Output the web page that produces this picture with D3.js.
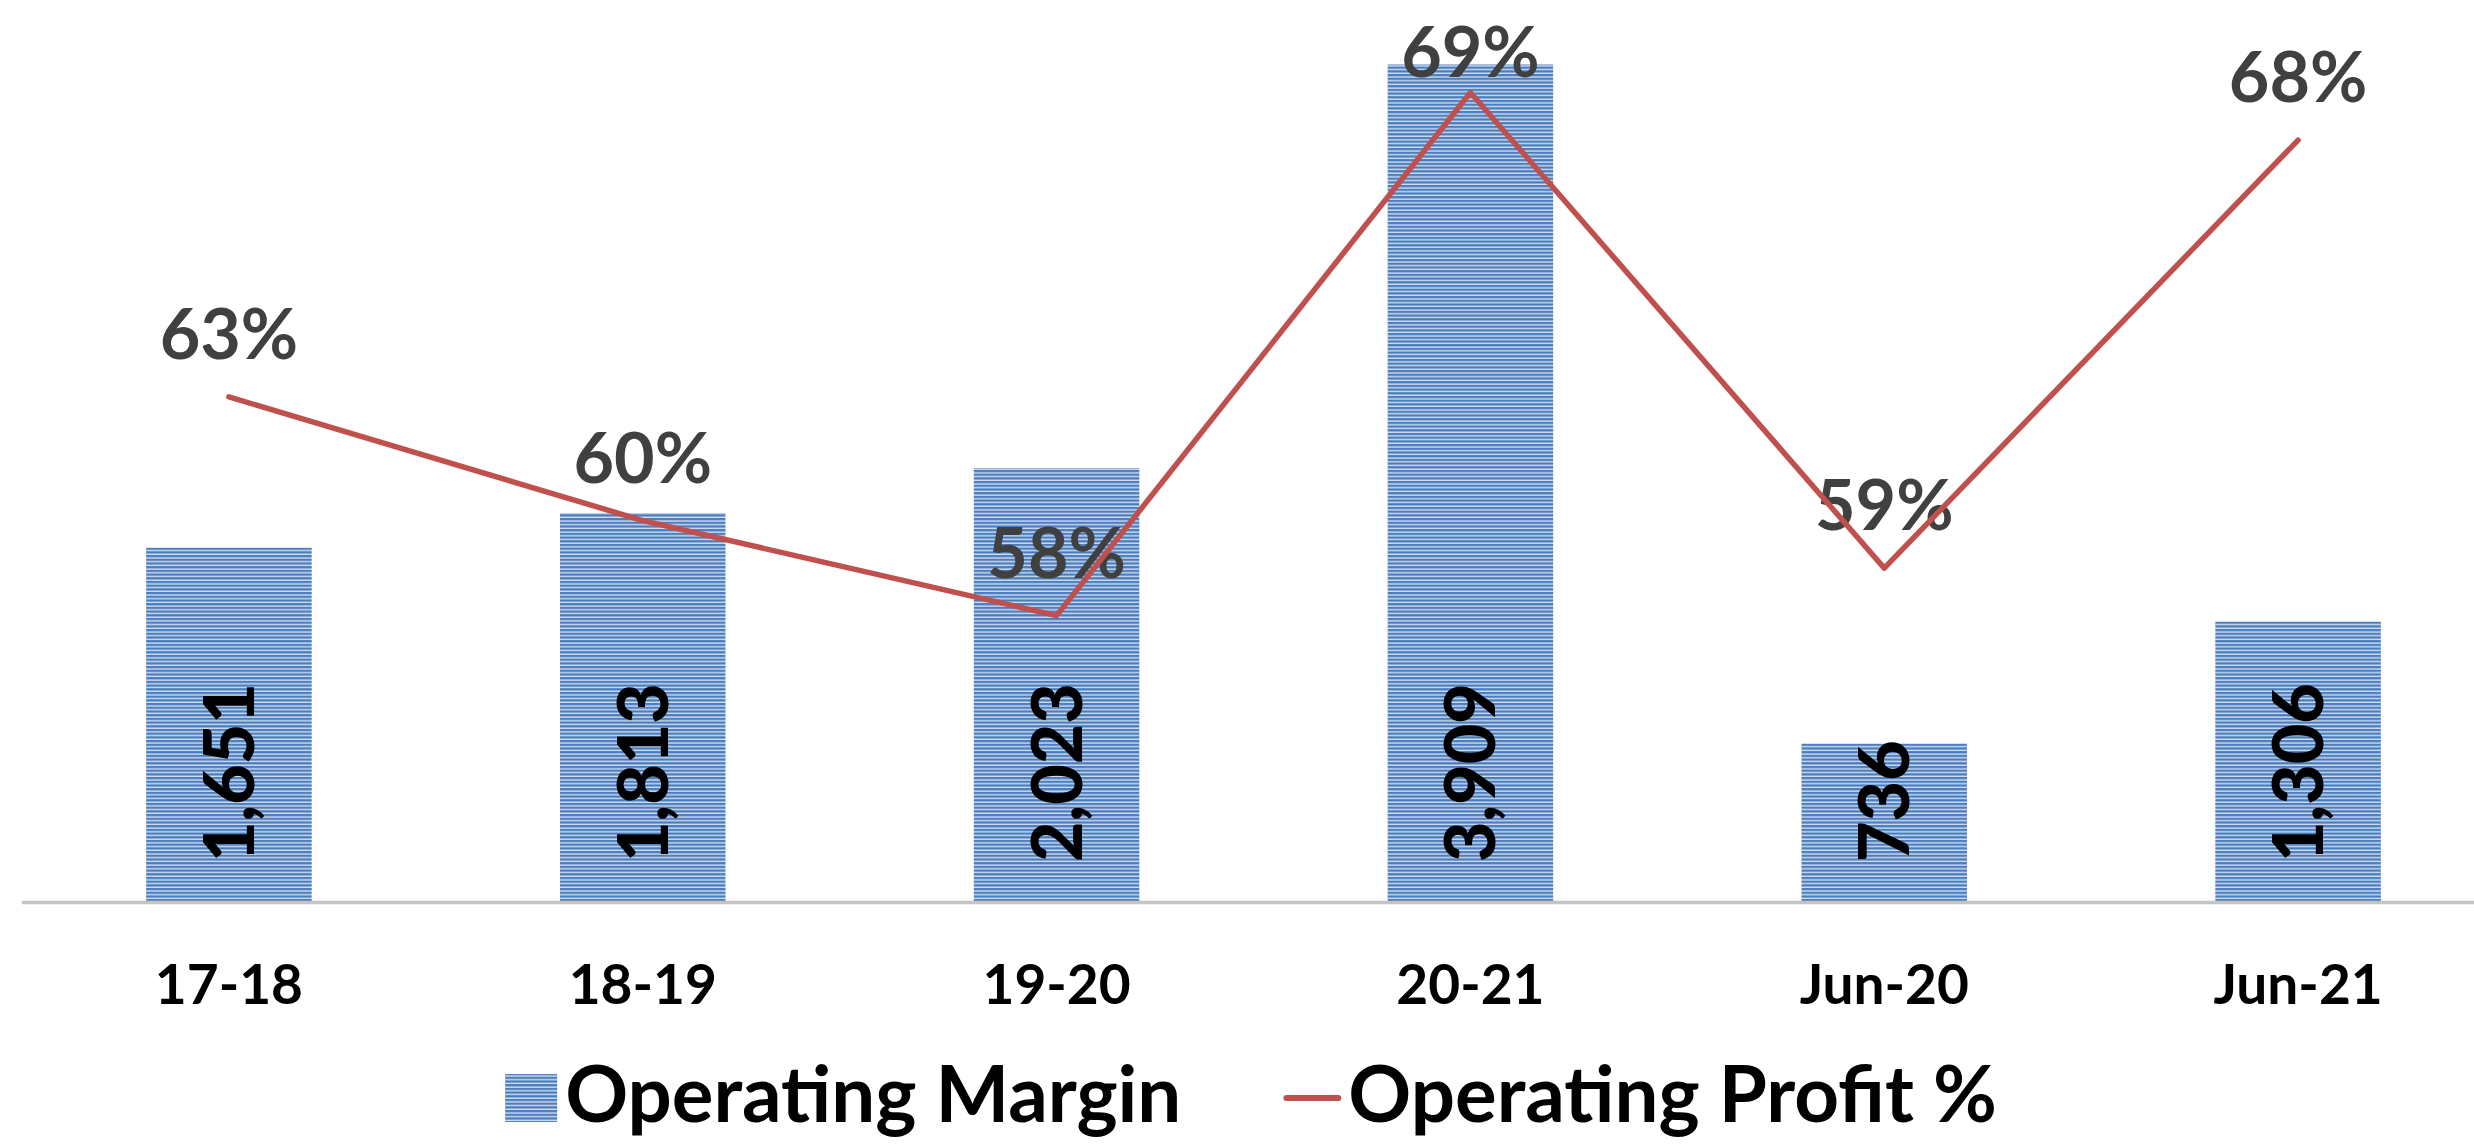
<!DOCTYPE html>
<html>
<head>
<meta charset="utf-8">
<script src="https://cdn.jsdelivr.net/npm/d3@7"></script>
<style>
  html, body { margin: 0; padding: 0; background: #fff; overflow: hidden; }
  svg text { font-family: Lato, "Open Sans", sans-serif; font-weight: 700; }
</style>
</head>
<body>
<svg id="chart"></svg>
<script>
// Data
const categories = ["17-18", "18-19", "19-20", "20-21", "Jun-20", "Jun-21"];
const operatingMargin = [1651, 1813, 2023, 3909, 736, 1306];
const operatingProfitPct = [0.626, 0.60, 0.58, 0.69, 0.59, 0.68];
const marginAxisDomain = [0, 4000];
const pctAxisDomain = [0.52, 0.70];
const legendLabels = ["Operating Margin", "Operating Profit %"];

const width = 2474;
const height = 1145;
const plot = { left: 22, right: 2505, top: 45, bottom: 901 };

const BAR_BLUE = "#4a7dbd";
const BAR_LIGHT = "#d3dff0";
const LINE_RED = "#c0504d";
const LABEL_GREY = "#404040";

const svg = d3.select("#chart").attr("width", width).attr("height", height);

// horizontal stripe fill like the Excel pattern
const defs = svg.append("defs");
const pat = defs.append("pattern")
  .attr("id", "stripes")
  .attr("patternUnits", "userSpaceOnUse")
  .attr("width", 8)
  .attr("height", 3.7);
pat.append("rect").attr("width", 8).attr("height", 3.7).attr("fill", BAR_LIGHT);
pat.append("rect").attr("width", 8).attr("height", 2.3).attr("fill", BAR_BLUE);

const x = d3.scaleBand()
  .domain(categories)
  .range([plot.left, plot.right])
  .paddingInner(0.6)
  .paddingOuter(0.3);

const y = d3.scaleLinear().domain(marginAxisDomain).range([plot.bottom, plot.top]);
const y2 = d3.scaleLinear().domain(pctAxisDomain).range([plot.bottom, plot.top]);

const rows = categories.map((c, i) => ({
  cat: c,
  margin: operatingMargin[i],
  pct: operatingProfitPct[i]
}));

// bars
svg.append("g")
  .selectAll("rect")
  .data(rows)
  .join("rect")
  .attr("x", d => x(d.cat))
  .attr("y", d => y(d.margin))
  .attr("width", x.bandwidth())
  .attr("height", d => y(0) - y(d.margin))
  .attr("fill", "url(#stripes)");

// category axis
const xAxis = svg.append("g")
  .attr("transform", `translate(0,${plot.bottom})`)
  .call(d3.axisBottom(x).tickSize(0).tickPadding(0));
xAxis.select(".domain").remove();
xAxis.append("line")
  .attr("x1", plot.left)
  .attr("x2", width)
  .attr("y1", 1.5)
  .attr("y2", 1.5)
  .attr("stroke", "#c4c4c4")
  .attr("stroke-width", 3.5);
xAxis.selectAll(".tick text")
  .attr("y", 103)
  .attr("dy", null)
  .attr("fill", "#000")
  .style("font-size", "55px")
  .style("font-family", "Lato, sans-serif")
  .style("font-weight", 700);

// bar value labels, rotated, anchored at the bar base
const fmtNum = d3.format(",");
svg.append("g")
  .selectAll("text")
  .data(rows)
  .join("text")
  .attr("transform", d => `translate(${x(d.cat) + x.bandwidth() / 2 + 25},${y(0) - 39}) rotate(-90)`)
  .attr("text-anchor", "start")
  .attr("fill", "#000")
  .style("font-size", "70px")
  .style("font-weight", 900)
  .text(d => fmtNum(d.margin));

// percentage labels (Excel keeps them inside the chart area)
const fmtPct = d3.format(".0%");
svg.append("g")
  .selectAll("text")
  .data(rows)
  .join("text")
  .attr("x", d => x(d.cat) + x.bandwidth() / 2)
  .attr("y", d => Math.max(y2(d.pct) - 38, 77))
  .attr("text-anchor", "middle")
  .attr("fill", LABEL_GREY)
  .style("font-size", "70px")
  .text(d => fmtPct(d.pct));

// profit line
const line = d3.line()
  .x(d => x(d.cat) + x.bandwidth() / 2)
  .y(d => y2(d.pct));
svg.append("path")
  .datum(rows)
  .attr("d", line)
  .attr("fill", "none")
  .attr("stroke", LINE_RED)
  .attr("stroke-width", 5.5)
  .attr("stroke-linejoin", "round")
  .attr("stroke-linecap", "round");

// legend
const legend = svg.append("g");
const legendBaseline = 1122;
const item1 = legend.append("g");
item1.append("rect")
  .attr("x", 0).attr("y", legendBaseline - 48)
  .attr("width", 52).attr("height", 48)
  .attr("fill", "url(#stripes)");
const t1 = item1.append("text")
  .attr("x", 60).attr("y", legendBaseline)
  .attr("fill", "#000")
  .style("font-size", "78px")
  .text(legendLabels[0]);

const w1 = 60 + t1.node().getComputedTextLength();
const item2 = legend.append("g").attr("transform", `translate(${w1 + 102},0)`);
item2.append("line")
  .attr("x1", 3).attr("x2", 55)
  .attr("y1", legendBaseline - 24).attr("y2", legendBaseline - 24)
  .attr("stroke", LINE_RED)
  .attr("stroke-width", 6)
  .attr("stroke-linecap", "round");
const t2 = item2.append("text")
  .attr("x", 65).attr("y", legendBaseline)
  .attr("fill", "#000")
  .style("font-size", "78px")
  .text(legendLabels[1]);

const legendWidth = w1 + 102 + 65 + t2.node().getComputedTextLength();
legend.attr("transform", `translate(${1251 - legendWidth / 2},0)`);
</script>
</body>
</html>
